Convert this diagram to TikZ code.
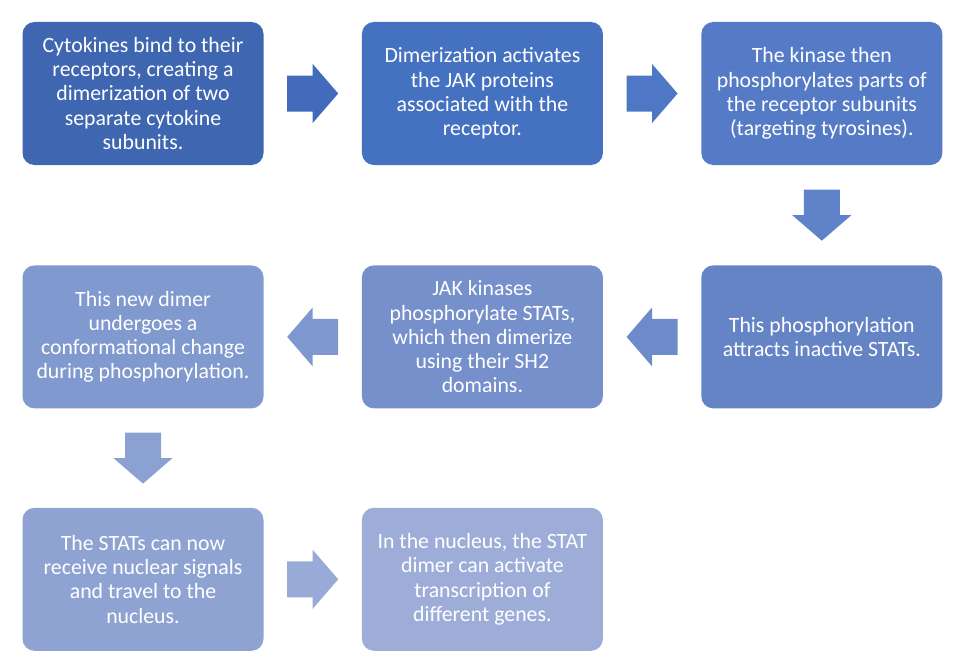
\documentclass[tikz,border=0pt]{standalone}
\usepackage{fontspec}
\setmainfont{Carlito}
\usetikzlibrary{positioning,calc}
% box and arrow colours, dark to light
\definecolor{boxA}{HTML}{3F66B1}
\definecolor{boxB}{HTML}{4571C1}
\definecolor{boxC}{HTML}{557BC6}
\definecolor{boxD}{HTML}{6584C6}
\definecolor{boxE}{HTML}{7690CB}
\definecolor{boxF}{HTML}{8099CE}
\definecolor{boxG}{HTML}{8FA3D3}
\definecolor{boxH}{HTML}{9DADD8}
\definecolor{arrA}{HTML}{426BBB}
\definecolor{arrB}{HTML}{4E78C5}
\definecolor{arrC}{HTML}{5F82C8}
\definecolor{arrD}{HTML}{6D8ACA}
\definecolor{arrE}{HTML}{7E97CE}
\definecolor{arrF}{HTML}{8BA1D2}
\definecolor{arrG}{HTML}{98ABD6}
\tikzset{stepbox/.style={rounded corners=12pt,minimum width=241pt,minimum height=143pt,
    align=center,text=white,font=\fontsize{21.8}{24.2}\selectfont,fill=#1}}
% block arrow half way between two anchors: from, to, angle, colour
\newcommand{\flowarrow}[4]{%
  \fill[#4,shift={($(#1)!0.5!(#2)$)},rotate=#3] (-25.5,-18) -- (0,-18) -- (0,-29.5) -- (25.5,0)
    -- (0,29.5) -- (0,18) -- (-25.5,18) -- cycle;}
\begin{document}
\begin{tikzpicture}[x=1pt,y=1pt]
  \useasboundingbox (0,0) rectangle (958,-669);
  \node[stepbox=boxA] (bind) at (143,-93.5) {Cytokines bind to their\\receptors, creating a\\dimerization of two\\separate cytokine\\subunits.};
  \node[stepbox=boxB,right=98pt of bind] (jak) {Dimerization activates\\the JAK proteins\\associated with the\\receptor.};
  \node[stepbox=boxC,right=98pt of jak] (kinase) {The kinase then\\phosphorylates parts of\\the receptor subunits\\(targeting tyrosines).};
  \node[stepbox=boxD,below=100pt of kinase] (attract) {This phosphorylation\\attracts inactive STATs.};
  \node[stepbox=boxE,below=100pt of jak] (dimer) {JAK kinases\\phosphorylate STATs,\\which then dimerize\\using their SH2\\domains.};
  \node[stepbox=boxF,below=100pt of bind] (change) {This new dimer\\undergoes a\\conformational change\\during phosphorylation.};
  \node[stepbox=boxG,below=99pt of change] (travel) {The STATs can now\\receive nuclear signals\\and travel to the\\nucleus.};
  \node[stepbox=boxH,right=98pt of travel] (genes) {In the nucleus, the STAT\\dimer can activate\\transcription of\\different genes.};
  \flowarrow{bind.east}{jak.west}{0}{arrA}
  \flowarrow{jak.east}{kinase.west}{0}{arrB}
  \flowarrow{kinase.south}{attract.north}{-90}{arrC}
  \flowarrow{attract.west}{dimer.east}{180}{arrD}
  \flowarrow{dimer.west}{change.east}{180}{arrE}
  \flowarrow{change.south}{travel.north}{-90}{arrF}
  \flowarrow{travel.east}{genes.west}{0}{arrG}
\end{tikzpicture}
\end{document}
